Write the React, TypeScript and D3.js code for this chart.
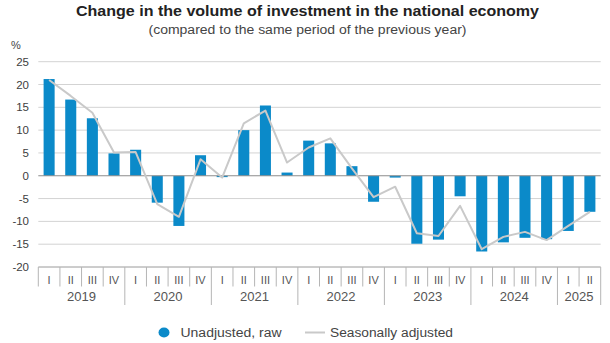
import React from "react";
import * as d3 from "d3";

const quarterLabels = [
  "I", "II", "III", "IV",
  "I", "II", "III", "IV",
  "I", "II", "III", "IV",
  "I", "II", "III", "IV",
  "I", "II", "III", "IV",
  "I", "II", "III", "IV",
  "I", "II",
];
const yearLabels = ["2019", "2020", "2021", "2022", "2023", "2024", "2025"];
const quartersPerYear = [4, 4, 4, 4, 4, 4, 2];

const unadjusted = [
  21.2, 16.7, 12.6, 4.9,
  5.7, -5.9, -11.0, 4.5,
  -0.3, 10.0, 15.4, 0.7,
  7.7, 7.1, 2.1, -5.7,
  -0.4, -14.9, -14.0, -4.5,
  -16.6, -14.6, -13.6, -13.9,
  -12.1, -7.9,
];
const seasonallyAdjusted = [
  21.0, 17.5, 13.8, 5.1,
  5.2, -6.2, -9.0, 3.6,
  -0.4, 11.5, 14.3, 2.9,
  6.2, 8.2, 1.6, -4.7,
  -2.4, -12.6, -13.2, -6.6,
  -16.1, -13.4, -12.3, -14.1,
  -11.0, -7.9,
];
const yTicks = [25, 20, 15, 10, 5, 0, -5, -10, -15, -20];

const W = 610;
const H = 343;
const left = 38.3;
const right = 600.7;
const top = 61.7;
const bottom = 267;
const FONT = "'Liberation Sans', Arial, sans-serif";
const BAR = "#0b8ac9";
const LINE = "#c9c9c9";

export default function App() {
  const idx = quarterLabels.map((_, i) => i);
  const x = d3
    .scaleBand<number>()
    .domain(idx)
    .range([left, right])
    .paddingInner(0.49)
    .paddingOuter(0.245);
  const step = x.step();
  const y = d3.scaleLinear().domain([-20, 25]).range([bottom, top]);
  const cx = (i: number) => (x(i) as number) + x.bandwidth() / 2;

  const line = d3
    .line<number>()
    .x((_, i) => cx(i))
    .y((d) => y(d));

  const yearStarts: number[] = [];
  let acc = 0;
  quartersPerYear.forEach((n) => {
    yearStarts.push(acc);
    acc += n;
  });
  const yearStartSet = new Set(yearStarts);

  return (
    <svg
      width={W}
      height={H}
      style={{ position: "absolute", left: 0, top: 0, background: "#fff" }}
    >
      <text
        x={76}
        y={16}
        fontFamily={FONT}
        fontWeight="bold"
        fontSize={14}
        fill="#222"
        textLength={463}
        lengthAdjust="spacingAndGlyphs"
      >
        Change in the volume of investment in the national economy
      </text>
      <text
        x={148.5}
        y={34}
        fontFamily={FONT}
        fontSize={12}
        fill="#444"
        textLength={318}
        lengthAdjust="spacingAndGlyphs"
      >
        (compared to the same period of the previous year)
      </text>
      <text x={11} y={49} fontFamily={FONT} fontSize={11} fill="#444">
        %
      </text>

      {yTicks.map((t) => (
        <g key={t}>
          {t !== -20 && t !== 0 && (
            <line
              x1={left}
              x2={right}
              y1={y(t)}
              y2={y(t)}
              stroke="#d3d3d3"
              strokeWidth={1}
            />
          )}
          <text
            x={29}
            y={y(t) + 4}
            textAnchor="end"
            fontFamily={FONT}
            fontSize={11.5}
            fill="#404040"
          >
            {t}
          </text>
        </g>
      ))}

      {unadjusted.map((v, i) => (
        <rect
          key={i}
          x={x(i) as number}
          width={x.bandwidth()}
          y={Math.min(y(v), y(0))}
          height={Math.max(Math.abs(y(v) - y(0)), 0.8)}
          fill={BAR}
        />
      ))}

      <line x1={left} x2={right} y1={y(0)} y2={y(0)} stroke="#8c8c8c" strokeWidth={1} />

      <path
        d={line(seasonallyAdjusted) || ""}
        fill="none"
        stroke={LINE}
        strokeWidth={2}
        strokeLinejoin="round"
      />

      <line x1={left} x2={right} y1={bottom} y2={bottom} stroke="#9a9a9a" strokeWidth={1} />
      {idx.map((i) => {
        const xb = left + i * step;
        const isYear = yearStartSet.has(i) && i !== 0;
        return (
          <line
            key={"s" + i}
            x1={xb}
            x2={xb}
            y1={bottom}
            y2={isYear ? 305 : 286.5}
            stroke="#b5b5b5"
            strokeWidth={1}
          />
        );
      })}
      <line x1={right} x2={right} y1={bottom} y2={305} stroke="#b5b5b5" strokeWidth={1} />
      {quarterLabels.map((q, i) => (
        <text
          key={"q" + i}
          x={cx(i)}
          y={284}
          textAnchor="middle"
          fontFamily={FONT}
          fontSize={11}
          fill="#555"
        >
          {q}
        </text>
      ))}
      {yearLabels.map((yr, k) => {
        const s = yearStarts[k];
        const e = s + quartersPerYear[k];
        const mid = left + ((s + e) / 2) * step;
        return (
          <text
            key={yr}
            x={mid}
            y={301}
            textAnchor="middle"
            fontFamily={FONT}
            fontSize={12}
            fill="#555"
            textLength={29}
            lengthAdjust="spacingAndGlyphs"
          >
            {yr}
          </text>
        );
      })}

      <ellipse cx={164} cy={332.5} rx={5.5} ry={5} fill={BAR} />
      <text
        x={180.5}
        y={337}
        fontFamily={FONT}
        fontSize={12.5}
        fill="#444"
        textLength={101}
        lengthAdjust="spacingAndGlyphs"
      >
        Unadjusted, raw
      </text>
      <line x1={305} x2={325} y1={332.5} y2={332.5} stroke={LINE} strokeWidth={2} />
      <text
        x={330}
        y={337}
        fontFamily={FONT}
        fontSize={12.5}
        fill="#444"
        textLength={123}
        lengthAdjust="spacingAndGlyphs"
      >
        Seasonally adjusted
      </text>
    </svg>
  );
}
